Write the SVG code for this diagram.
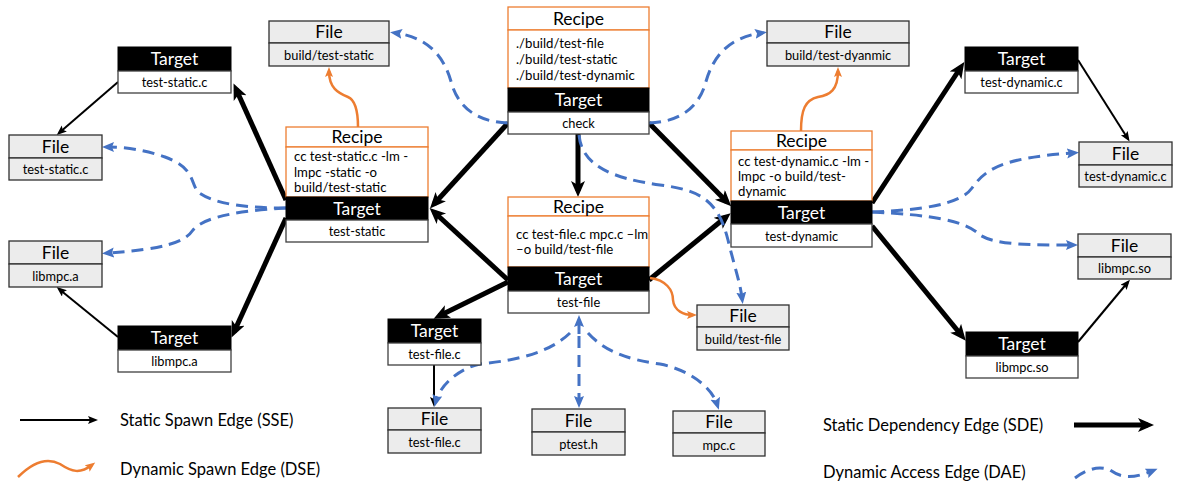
<svg xmlns="http://www.w3.org/2000/svg" width="1178" height="486" viewBox="0 0 1178 486">
<style>
text{font-family:Lato,"Liberation Sans",sans-serif;fill:#000}
.th{fill:#000;stroke:#000;stroke-width:1}
.tb{fill:#fff;stroke:#404040;stroke-width:1.3}
.fr{fill:#ececec;stroke:#303030;stroke-width:1.3}
.rr{fill:#fff;stroke:#ED7D31;stroke-width:1.3}
.ht{font-size:17.5px;fill:#fff;text-anchor:middle}
.hd{font-size:17.5px;text-anchor:middle}
.bt{font-size:12.8px;text-anchor:middle}
.rt{font-size:13.2px}
.lg{font-size:16.5px}
.sde{fill:none;stroke:#000;stroke-width:5}
.sse{fill:none;stroke:#000;stroke-width:2}
.dse{fill:none;stroke:#ED7D31;stroke-width:2.5}
.dae{fill:none;stroke:#4472C4;stroke-width:3;stroke-dasharray:12 7}
</style>
<defs>
<marker id="mSDE" markerUnits="userSpaceOnUse" markerWidth="18" markerHeight="16" refX="10" refY="7" orient="auto"><path d="M0,0 L16,7 L0,14 L4,7 Z" fill="#000"/></marker>
<marker id="mSSE" markerUnits="userSpaceOnUse" markerWidth="12" markerHeight="10" refX="7" refY="4" orient="auto"><path d="M0,0 L10,4 L0,8 L2,4 Z" fill="#000"/></marker>
<marker id="mDSE" markerUnits="userSpaceOnUse" markerWidth="12" markerHeight="10" refX="6" refY="4" orient="auto"><path d="M0,0 L10,4 L0,8 L2,4 Z" fill="#ED7D31"/></marker>
<marker id="mDAE" markerUnits="userSpaceOnUse" markerWidth="14" markerHeight="12" refX="6" refY="5" orient="auto"><path d="M0,0 L12,5 L0,10 L2,5 Z" fill="#4472C4"/></marker>
</defs>

<g id="connectors">
<path class="sde" marker-end="url(#mSDE)" d="M508,123 L434,204"/>
<path class="sde" marker-end="url(#mSDE)" d="M578,134 L578,191"/>
<path class="sde" marker-end="url(#mSDE)" d="M649,123 L727,202"/>
<path class="sde" marker-end="url(#mSDE)" d="M508,280 L434,212"/>
<path class="sde" marker-end="url(#mSDE)" d="M649,280 L726,217"/>
<path class="sde" marker-end="url(#mSDE)" d="M508,282 L439,316"/>
<path class="sde" marker-end="url(#mSDE)" d="M286,200 L236,89"/>
<path class="sde" marker-end="url(#mSDE)" d="M286,218 L234,332"/>
<path class="sde" marker-end="url(#mSDE)" d="M872,203 L961,67"/>
<path class="sde" marker-end="url(#mSDE)" d="M872,226 L962,336"/>
<path class="sse" marker-end="url(#mSSE)" d="M118,82 L59,133"/>
<path class="sse" marker-end="url(#mSSE)" d="M118,337 L59,289"/>
<path class="sse" marker-end="url(#mSSE)" d="M1078,60 L1128,139"/>
<path class="sse" marker-end="url(#mSSE)" d="M1078,342 L1128,282"/>
<path class="sse" marker-end="url(#mSSE)" d="M434,365 L434,404"/>
<path class="dse" marker-end="url(#mDSE)" d="M358,127 C358,110 355,100 348,97 C338,93 329,88 329,71"/>
<path class="dse" marker-end="url(#mDSE)" d="M801,131 C801,110 805,100 818,97 C830,95 838,90 838,71"/>
<path class="dse" marker-end="url(#mDSE)" d="M650,278 C666,280 673,290 673,300 C674,311 684,315 693,315"/>
<path class="dae" marker-end="url(#mDAE)" d="M508,123 C480,122 460,110 452,85 C445,58 430,38 396,33"/>
<path class="dae" marker-end="url(#mDAE)" d="M649,123 C677,122 697,110 705,85 C712,58 727,38 761,33"/>
<path class="dae" marker-end="url(#mDAE)" d="M579,135 C582,165 610,178 660,185 C700,190 718,200 728,240 C734,265 740,282 742,298"/>
<path class="dae" marker-end="url(#mDAE)" d="M286,208 C250,208 215,205 198,192 C190,182 195,168 165,157 C145,150 125,147 108,147"/>
<path class="dae" marker-end="url(#mDAE)" d="M286,208 C250,210 205,215 193,230 C185,242 165,249 108,253"/>
<path class="dae" marker-end="url(#mDAE)" d="M872,212 C920,210 960,205 972,188 C985,170 1000,158 1073,153"/>
<path class="dae" marker-end="url(#mDAE)" d="M872,212 C930,215 965,220 980,235 C995,245 1030,245 1072,245"/>
<path class="dae" marker-end="url(#mDAE)" d="M579,334 L579,321"/>
<path class="dae" marker-end="url(#mDAE)" d="M579,336 L579,402"/>
<path class="dae" marker-end="url(#mDAE)" d="M570,333 C550,352 520,360 480,364 C460,368 440,385 436,401"/>
<path class="dae" marker-end="url(#mDAE)" d="M588,333 C605,352 630,360 660,364 C690,370 712,388 717,404"/>
</g>

<g id="n-target-test-static-c"><rect class="th" x="118" y="47" width="113" height="24"/><rect class="tb" x="118" y="71" width="113" height="22"/><text class="ht" x="174.5" y="65">Target</text><text class="bt" x="174.5" y="86.5">test-static.c</text></g>
<g id="n-file-build-test-static"><rect class="fr" x="269" y="21" width="120" height="22"/><rect class="fr" x="269" y="43" width="120" height="23"/><text class="hd" x="329" y="38">File</text><text class="bt" x="329" y="59.5">build/test-static</text></g>
<g id="n-file-test-static-c"><rect class="fr" x="9" y="135" width="93" height="23"/><rect class="fr" x="9" y="158" width="93" height="22"/><text class="hd" x="55.5" y="153">File</text><text class="bt" x="55.5" y="173.5">test-static.c</text></g>
<g id="n-file-libmpc-a"><rect class="fr" x="9" y="241" width="93" height="23"/><rect class="fr" x="9" y="264" width="93" height="23"/><text class="hd" x="55.5" y="259">File</text><text class="bt" x="55.5" y="280.5">libmpc.a</text></g>
<g id="n-target-libmpc-a"><rect class="th" x="118" y="326" width="113" height="24"/><rect class="tb" x="118" y="350" width="113" height="22"/><text class="ht" x="174.5" y="344">Target</text><text class="bt" x="174.5" y="365.5">libmpc.a</text></g>
<g id="n-test-static"><rect class="rr" x="286" y="127" width="142" height="20"/><rect class="rr" x="286" y="147" width="142" height="50"/><rect class="th" x="286" y="197" width="142" height="23"/><rect class="tb" x="286" y="220" width="142" height="22"/><text class="hd" x="357" y="143">Recipe</text><text class="rt" x="294" y="161">cc test-static.c -lm -</text><text class="rt" x="294" y="177">lmpc -static -o</text><text class="rt" x="294" y="192">build/test-static</text><text class="ht" x="357" y="215">Target</text><text class="bt" x="357" y="235.5">test-static</text></g>
<g id="n-check"><rect class="rr" x="508" y="7" width="141" height="23"/><rect class="rr" x="508" y="30" width="141" height="58"/><rect class="th" x="508" y="88" width="141" height="24"/><rect class="tb" x="508" y="112" width="141" height="22"/><text class="hd" x="578.5" y="25">Recipe</text><text class="rt" x="516" y="48">./build/test-file</text><text class="rt" x="516" y="64">./build/test-static</text><text class="rt" x="516" y="80">./build/test-dynamic</text><text class="ht" x="578.5" y="106">Target</text><text class="bt" x="578.5" y="127.5">check</text></g>
<g id="n-test-file"><rect class="rr" x="508" y="197" width="141" height="19"/><rect class="rr" x="508" y="216" width="141" height="51"/><rect class="th" x="508" y="267" width="141" height="24"/><rect class="tb" x="508" y="291" width="141" height="22"/><text class="hd" x="578.5" y="213">Recipe</text><text class="rt" x="516" y="239">cc test-file.c mpc.c –lm</text><text class="rt" x="516" y="254">–o build/test-file</text><text class="ht" x="578.5" y="285">Target</text><text class="bt" x="578.5" y="306.5">test-file</text></g>
<g id="n-target-test-file-c"><rect class="th" x="388" y="319" width="93" height="24"/><rect class="tb" x="388" y="343" width="93" height="22"/><text class="ht" x="434.5" y="337">Target</text><text class="bt" x="434.5" y="358.5">test-file.c</text></g>
<g id="n-file-test-file-c"><rect class="fr" x="388" y="408" width="93" height="22"/><rect class="fr" x="388" y="430" width="93" height="23"/><text class="hd" x="434.5" y="425">File</text><text class="bt" x="434.5" y="446.5">test-file.c</text></g>
<g id="n-file-ptest-h"><rect class="fr" x="532" y="409" width="93" height="23"/><rect class="fr" x="532" y="432" width="93" height="23"/><text class="hd" x="578.5" y="427">File</text><text class="bt" x="578.5" y="448.5">ptest.h</text></g>
<g id="n-file-mpc-c"><rect class="fr" x="673" y="411" width="92" height="22"/><rect class="fr" x="673" y="433" width="92" height="23"/><text class="hd" x="719" y="428">File</text><text class="bt" x="719" y="449.5">mpc.c</text></g>
<g id="n-file-build-test-file"><rect class="fr" x="697" y="305" width="92" height="22"/><rect class="fr" x="697" y="327" width="92" height="23"/><text class="hd" x="743" y="322">File</text><text class="bt" x="743" y="343.5">build/test-file</text></g>
<g id="n-file-build-test-dynamic"><rect class="fr" x="767" y="21" width="142" height="22"/><rect class="fr" x="767" y="43" width="142" height="23"/><text class="hd" x="838" y="38">File</text><text class="bt" x="838" y="59.5">build/test-dyanmic</text></g>
<g id="n-test-dynamic"><rect class="rr" x="731" y="131" width="141" height="19"/><rect class="rr" x="731" y="150" width="141" height="51"/><rect class="th" x="731" y="201" width="141" height="23"/><rect class="tb" x="731" y="224" width="141" height="23"/><text class="hd" x="801.5" y="147">Recipe</text><text class="rt" x="738" y="166">cc test-dynamic.c -lm -</text><text class="rt" x="738" y="181">lmpc -o build/test-</text><text class="rt" x="738" y="196">dynamic</text><text class="ht" x="801.5" y="219">Target</text><text class="bt" x="801.5" y="240.5">test-dynamic</text></g>
<g id="n-target-test-dynamic-c"><rect class="th" x="965" y="47" width="113" height="24"/><rect class="tb" x="965" y="71" width="113" height="22"/><text class="ht" x="1021.5" y="65">Target</text><text class="bt" x="1021.5" y="86.5">test-dynamic.c</text></g>
<g id="n-file-test-dynamic-c"><rect class="fr" x="1079" y="142" width="93" height="23"/><rect class="fr" x="1079" y="165" width="93" height="22"/><text class="hd" x="1125.5" y="160">File</text><text class="bt" x="1125.5" y="180.5">test-dynamic.c</text></g>
<g id="n-file-libmpc-so"><rect class="fr" x="1078" y="234" width="93" height="23"/><rect class="fr" x="1078" y="257" width="93" height="22"/><text class="hd" x="1124.5" y="252">File</text><text class="bt" x="1124.5" y="272.5">libmpc.so</text></g>
<g id="n-target-libmpc-so"><rect class="th" x="966" y="332" width="112" height="24"/><rect class="tb" x="966" y="356" width="112" height="22"/><text class="ht" x="1022" y="350">Target</text><text class="bt" x="1022" y="371.5">libmpc.so</text></g>

<g id="legend">
<path class="sse" marker-end="url(#mSSE)" d="M20,420 L95,420"/>
<text class="lg" x="120" y="426">Static Spawn Edge (SSE)</text>
<path class="dse" marker-end="url(#mDSE)" d="M18,477 C30,465 45,456 60,464 C72,472 80,474 92,465"/>
<text class="lg" x="120" y="475">Dynamic Spawn Edge (DSE)</text>
<text class="lg" x="823" y="431">Static Dependency Edge (SDE)</text>
<path class="sde" marker-end="url(#mSDE)" d="M1074,425 L1148,425"/>
<text class="lg" x="823" y="478">Dynamic Access Edge (DAE)</text>
<path class="dae" marker-end="url(#mDAE)" d="M1075,478 C1088,468 1100,466 1110,470 C1120,477 1130,480 1152,471"/>
</g>
</svg>
